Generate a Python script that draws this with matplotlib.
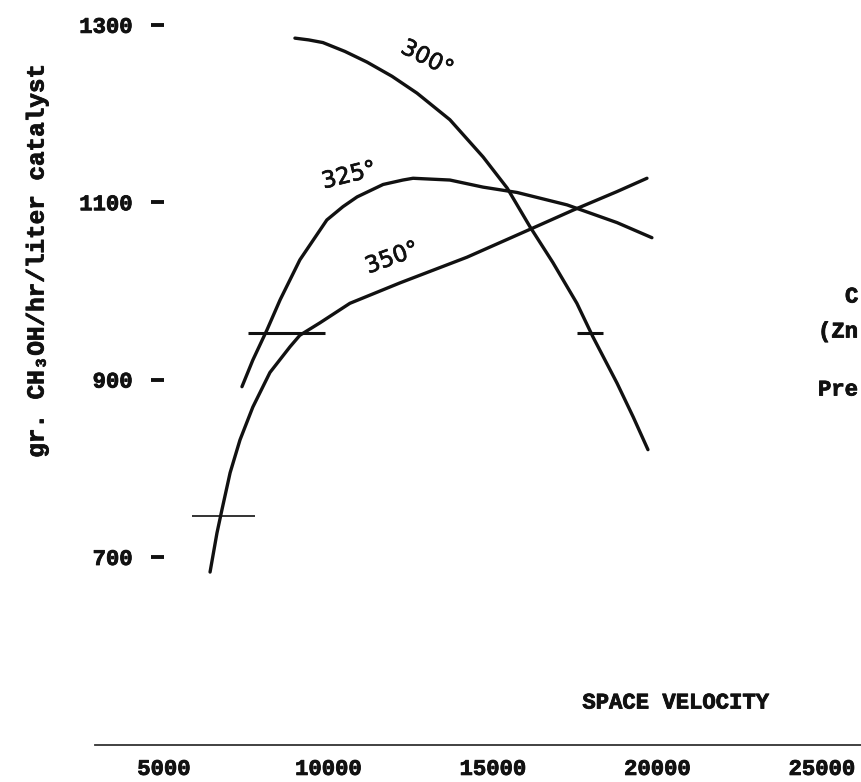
import matplotlib
matplotlib.use("Agg")
import matplotlib.pyplot as plt
import matplotlib.patheffects as pe

# ---- data ----
sv_300 = [8980, 9400, 9830, 10500, 11170, 11930, 12690, 13690, 14700, 15430, 16130, 16820, 17550, 18040, 18770, 19260, 19710]
y_300 = [1285, 1283, 1280, 1270, 1258, 1242, 1223, 1193, 1151, 1116, 1072, 1032, 986, 948, 896, 858, 821]

sv_325 = [7370, 7700, 8130, 8530, 9130, 9950, 10440, 10870, 11660, 12260, 12570, 13690, 14700, 15730, 17250, 18770, 19830]
y_325 = [892, 922, 956, 990, 1035, 1080, 1095, 1106, 1120, 1125, 1127, 1125, 1117, 1111, 1097, 1077, 1060]

sv_350 = [6400, 6610, 6760, 7010, 7310, 7700, 8220, 8830, 9130, 9740, 10650, 12170, 14210, 16220, 17430, 18770, 19680]
y_350 = [683, 727, 753, 795, 832, 869, 908, 937, 950, 964, 986, 1009, 1038, 1071, 1091, 1112, 1127]

curve_labels = ["300°", "325°", "350°"]
label_sv = [12990, 10620, 11930]
label_y = [1262, 1130, 1037]
label_rot = [-27, 14, 20]

# short horizontal reference marks
mark_y = [953, 952, 746]
mark_x0 = [7550, 17550, 5850]
mark_x1 = [9900, 18340, 7770]
mark_lw = [2.2, 2.2, 1.2]

x_ticks = [5000, 10000, 15000, 20000, 25000]
x_ticklabels = ["5000", "10000", "15000", "20000", "25000"]
y_ticks = [700, 900, 1100, 1300]
y_ticklabels = ["700", "900", "1100", "1300"]

side_texts = ["C", "(Zn", "Pre"]

# ---- figure ----
W, H = 862, 782
fig = plt.figure(figsize=(W / 100, H / 100), dpi=100)
ax = fig.add_axes([95 / W, (H - 745) / H, 767 / W, 745 / H])
ax.set_xlim(2903, 26216)
ax.set_ylim(488, 1328)
ax.patch.set_alpha(0)

mono = ["Liberation Mono", "DejaVu Sans Mono"]
ink = "#111111"
heavy = [pe.withStroke(linewidth=0.6, foreground=ink)]

for sv, yy in [(sv_300, y_300), (sv_325, y_325), (sv_350, y_350)]:
    ax.plot(sv, yy, color=ink, lw=2.4, solid_capstyle="round", solid_joinstyle="round")

for t, sx, sy, r in zip(curve_labels, label_sv, label_y, label_rot):
    ax.text(sx, sy, t, rotation=r, ha="center", va="center", fontsize=16.5,
            family=["DejaVu Sans"], color=ink, rotation_mode="anchor",
            path_effects=[pe.withStroke(linewidth=0.5, foreground=ink)])

for my, a, b, lw in zip(mark_y, mark_x0, mark_x1, mark_lw):
    ax.plot([a, b], [my, my], color=ink, lw=lw, solid_capstyle="butt")

# spines
for s in ["top", "right"]:
    ax.spines[s].set_visible(False)
ax.spines["left"].set_position(("data", 5000))
ax.spines["left"].set_color((0, 0, 0, 0))
ax.spines["bottom"].set_color("#333333")
ax.spines["bottom"].set_linewidth(1.3)

ax.set_xticks(x_ticks)
ax.set_xticklabels(x_ticklabels, family=mono, fontweight="bold", fontsize=16, color=ink)
ax.tick_params(axis="x", length=0, pad=10)

ax.set_yticks(y_ticks)
ax.set_yticklabels(y_ticklabels, family=mono, fontweight="bold", fontsize=16, color=ink)
ax.tick_params(axis="y", direction="out", length=9.5, width=2.8, pad=13, color=ink)

for lab in ax.get_xticklabels() + ax.get_yticklabels():
    lab.set_path_effects(heavy)

fig.text(676 / W, 1 - 703 / H, "SPACE VELOCITY", ha="center", va="center",
         family=mono, fontweight="bold", fontsize=16, color=ink, path_effects=heavy)
fig.text(37 / W, 1 - 262 / H, "gr. CH\u2083OH/hr/liter catalyst", rotation=90,
         ha="center", va="center", family=mono, fontweight="bold", fontsize=17.5,
         color=ink, path_effects=heavy)

fig.text(845 / W, 1 - 297 / H, side_texts[0], ha="left", va="center",
         family=mono, fontweight="bold", fontsize=16, color=ink, path_effects=heavy)
fig.text(818 / W, 1 - 332 / H, side_texts[1], ha="left", va="center",
         family=mono, fontweight="bold", fontsize=16, color=ink, path_effects=heavy)
fig.text(818 / W, 1 - 390 / H, side_texts[2], ha="left", va="center",
         family=mono, fontweight="bold", fontsize=16, color=ink, path_effects=heavy)

fig.savefig("out.png", dpi=100)
